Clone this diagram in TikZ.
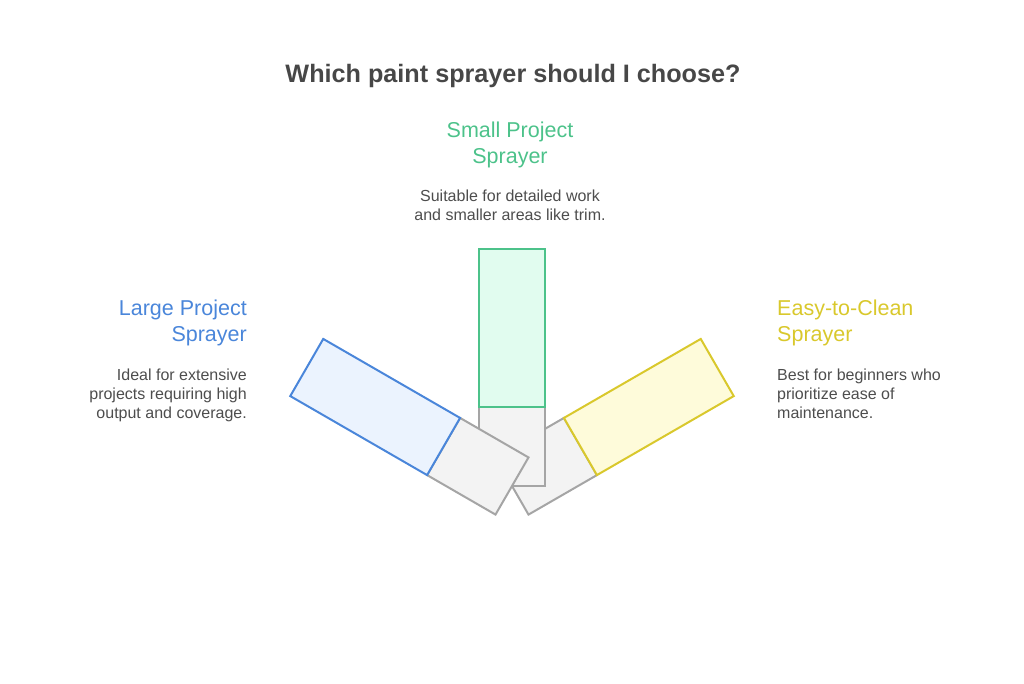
\documentclass[tikz,border=0pt]{standalone}
\usepackage{fontspec}
\setmainfont{Liberation Sans}
\usepackage{tikz}

\definecolor{blu}{HTML}{4A86DA}
\definecolor{bluf}{HTML}{EBF3FE}
\definecolor{grn}{HTML}{4CC28A}
\definecolor{grnf}{HTML}{E1FCEF}
\definecolor{yel}{HTML}{D9C82C}
\definecolor{yelf}{HTML}{FEFBDA}
\definecolor{gry}{HTML}{A5A5A5}
\definecolor{gryf}{HTML}{F3F3F3}
\definecolor{txt}{HTML}{4D4D4D}
\definecolor{ttl}{HTML}{474747}

\tikzset{
  bar/.style={line width=2pt, line join=miter},
  head/.style={font=\fontsize{21.5}{26}\selectfont, inner sep=0pt},
  desc/.style={font=\fontsize{16}{19}\selectfont, text=txt, inner sep=0pt}
}

\begin{document}
\begin{tikzpicture}[x=1pt,y=-1pt]
  \useasboundingbox (0,0) rectangle (1024,683);

  % title
  \node [anchor=base, inner sep=0pt, text=ttl,
         font=\fontsize{25.2}{30}\selectfont\bfseries] (title) at (513,82)
        {Which paint sprayer should I choose?};

  % the three bars, fanned out round one pivot
  \foreach \ang/\col in {-60/yel, 0/grn, 60/blu} {
    \begin{scope}[shift={(512,486)}, rotate=\ang]
      \filldraw [bar, draw=gry, fill=gryf] (-33,0) rectangle (33,-79);
      \filldraw [bar, draw=\col, fill=\col f] (-33,-79) rectangle (33,-237);
    \end{scope}
  }

  % labels
  \node [head, text=blu, align=right, anchor=north east] (large) at (247,300)
        {Large Project\\Sprayer};
  \node [desc, align=right, anchor=north east] (largetxt) at (247,368.5)
        {Ideal for extensive\\projects requiring high\\output and coverage.};

  \node [head, text=grn, align=center, anchor=north] (small) at (510,122)
        {Small Project\\Sprayer};
  \node [desc, align=center, anchor=north] (smalltxt) at (510,189.5)
        {Suitable for detailed work\\and smaller areas like trim.};

  \node [head, text=yel, align=left, anchor=north west] (easy) at (777,300)
        {Easy-to-Clean\\Sprayer};
  \node [desc, align=left, anchor=north west] (easytxt) at (777,368.5)
        {Best for beginners who\\prioritize ease of\\maintenance.};
\end{tikzpicture}
\end{document}
